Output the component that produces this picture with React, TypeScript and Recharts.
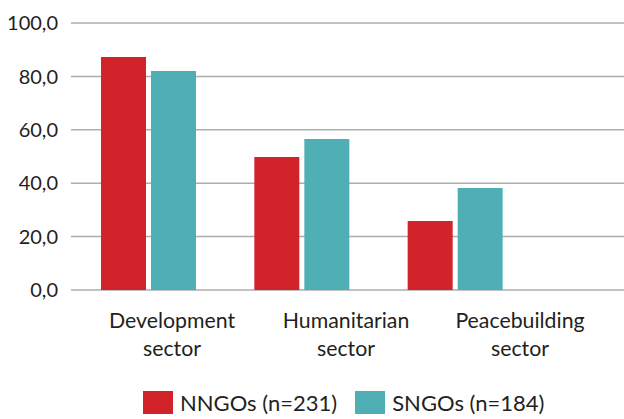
import React from "react";
import { BarChart, Bar, XAxis, YAxis, CartesianGrid, Legend } from "recharts";

const categories = ["Development sector", "Humanitarian sector", "Peacebuilding sector"];
const nngos = [87.3, 49.8, 25.8];
const sngos = [82.0, 56.6, 38.2];
const yTicks = [0, 20, 40, 60, 80, 100];
const seriesNames = ["NNGOs (n=231)", "SNGOs (n=184)"];
const colors = ["#D2232B", "#50AFB4"];

const data = categories.map((c, i) => ({ name: c, nngo: nngos[i], sngo: sngos[i] }));

const FONT = "Lato, 'Open Sans', sans-serif";
const TEXT = "#231F20";

const CatTick = (props: any) => {
  const { x, y, payload } = props;
  const words = String(payload.value).split(" ");
  return (
    <text x={x} y={y} textAnchor="middle" fill={TEXT} fontSize={21.3} fontFamily={FONT}>
      <tspan x={x} dy={30}>{words[0]}</tspan>
      <tspan x={x} dy={28}>{words.slice(1).join(" ")}</tspan>
    </text>
  );
};

const LegendContent = () => (
  <div style={{ display: "flex", alignItems: "center", height: 40, paddingLeft: 143, boxSizing: "border-box", fontFamily: FONT, fontSize: 22, color: TEXT, paddingTop: 6 }}>
    {seriesNames.map((n, i) => (
      <div key={n} style={{ display: "flex", alignItems: "center", marginRight: 18 }}>
        <div style={{ width: 30, height: 23, background: colors[i], marginRight: 7 }} />
        <span>{n}</span>
      </div>
    ))}
  </div>
);

export default function App() {
  return (
    <div style={{ position: "absolute", left: 0, top: 0, width: 624, height: 419, background: "#fff" }}>
      <BarChart width={624} height={419} data={data} margin={{ top: 23, right: 0, left: 0, bottom: 0 }} barSize={45} barGap={5}>
        <CartesianGrid vertical={false} stroke="#ADADAD" strokeWidth={1.5} />
        <XAxis xAxisId="bars" dataKey="name" hide height={0} padding={{ left: 1, right: 92 }} />
        <XAxis xAxisId="labels" dataKey="name" height={89} axisLine={false} tickLine={false} interval={0}
          padding={{ left: 14, right: 17 }} tick={<CatTick />} />
        <YAxis width={71} domain={[0, 100]} ticks={yTicks} axisLine={false} tickLine={false} tickSize={0} tickMargin={13}
          tickFormatter={(v: number) => v.toFixed(1).replace(".", ",")}
          tick={{ fill: TEXT, fontSize: 20, fontFamily: FONT }} />
        <Legend verticalAlign="bottom" content={<LegendContent />} wrapperStyle={{ left: 0, width: 624, height: 40 }} />
        <Bar xAxisId="bars" dataKey="nngo" name={seriesNames[0]} fill={colors[0]} isAnimationActive={false} />
        <Bar xAxisId="bars" dataKey="sngo" name={seriesNames[1]} fill={colors[1]} isAnimationActive={false} />
      </BarChart>
    </div>
  );
}
